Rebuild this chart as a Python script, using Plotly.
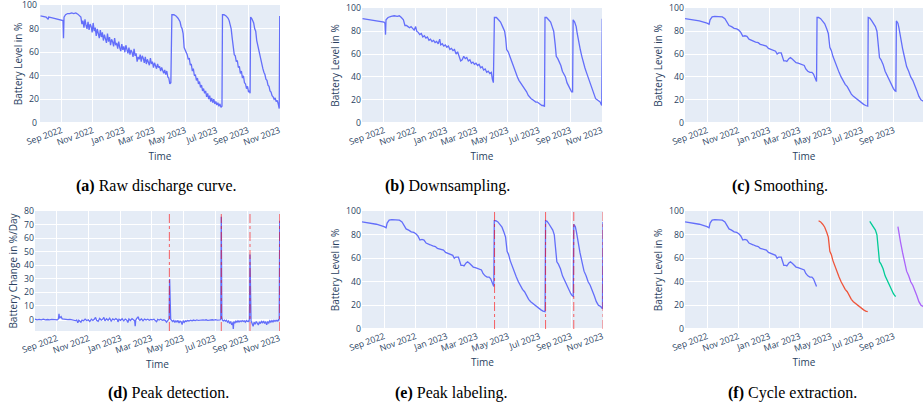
import pandas as pd
import plotly.graph_objects as go

BASE = pd.Timestamp("2022-09-01")

# ---------------- data (days relative to 2022-09-01) ----------------
raw_days = [-41, -35, -30, -26, -25, -20, -15, -10, -5, 0, 2, 3, 4, 5, 8, 12, 16, 20, 24, 28, 32, 36,
            38, 40, 42, 44, 46, 48, 50, 52, 54, 56, 58, 60, 62, 64, 66, 68, 70, 72, 74, 76, 78, 80,
            82, 84, 86, 88, 90, 92, 94, 96, 98, 100, 102, 104, 106, 108, 110, 112, 114, 116, 118, 120,
            122, 124, 126, 128, 130, 132, 134, 136, 138, 140, 142, 144, 146, 148, 150, 152, 154, 156,
            158, 160, 162, 164, 166, 168, 170, 172, 174, 176, 178, 180, 182, 184, 186, 188, 190, 192,
            194, 196, 198, 200, 202, 204, 206, 208, 210, 212, 214,
            216, 220, 224, 228, 232, 234, 236, 238, 240, 242, 244, 246, 248, 250, 252, 254, 256, 258,
            260, 262, 264, 266, 268, 270, 272, 274, 276, 278, 280, 282, 284, 286, 288, 290, 292, 294,
            296, 298, 300, 302, 304, 306, 308, 310, 312, 314,
            315, 318, 322, 326, 328, 330, 332, 334, 336, 338, 340, 342, 344, 346, 348, 350, 352, 354,
            356, 358, 360, 362, 364, 366, 368, 369,
            370, 372, 374, 376, 378, 380, 382, 384, 386, 388, 390, 392, 394, 396, 398, 400, 402, 404,
            406, 408, 410, 412, 414, 416, 418, 420, 422, 424, 426, 427]
raw_vals = [91, 90.5, 90, 88, 90, 89.5, 89, 88.5, 88, 87.5, 87, 87, 72, 90, 92, 93, 93, 93.5, 93, 93.5, 92.5, 91,
            90, 84, 87, 81, 88, 83, 80, 86, 79, 84, 82, 77, 85, 78, 81, 74, 80, 76, 72, 79, 73, 77,
            70, 75, 72, 68, 76, 69, 73, 66, 71, 69, 65, 72, 66, 68, 63, 69, 64, 61, 67, 62,
            65, 60, 66, 63, 59, 64, 58, 62, 60, 56, 63, 57, 59, 52, 56, 54, 58, 52,
            57, 55, 51, 56, 50, 54, 52, 49, 55, 50, 52, 47, 51, 49, 46, 50, 47, 48,
            44, 47, 45, 42, 45, 41, 44, 39, 38, 33, 34,
            92, 92, 91, 89, 86, 82, 80, 76, 64, 62, 60, 58, 54, 55, 49, 50, 44, 46,
            40, 41, 36, 38, 33, 35, 30, 32, 27, 29, 25, 27, 22, 25, 20, 23, 18, 21,
            17, 20, 16, 18, 15, 17, 14, 16, 13, 14,
            92, 92, 91, 89, 87, 84, 80, 72, 62, 58, 57, 52, 53, 47, 48, 42, 44, 38,
            40, 34, 33, 29, 31, 26, 27, 25,
            90, 89, 87, 85, 80, 78, 70, 66, 60, 58, 55, 51, 46, 43, 41, 37, 36, 32,
            31, 27, 26, 23, 22, 20, 21, 18, 19, 16, 12, 91]

down_days = [-42, -35, -28, -21, -14, -7, 0, 2, 3, 4, 8, 14, 20, 26, 30, 34, 38, 41, 44, 47, 50, 53, 56,
             59, 62, 64, 67, 70, 73, 76, 79, 82, 85, 88, 91, 94, 97, 100, 103, 106, 109, 111, 114, 117,
             120, 123, 126, 129, 132, 135, 138, 141, 144, 147, 150, 153, 156, 159, 162, 165, 168, 171,
             174, 177, 180, 183, 186, 189, 192, 195, 198, 201, 204, 207, 210, 212, 214,
             216, 220, 224, 228, 232, 236, 238, 240, 243, 246, 249, 252, 255, 258, 261, 264, 267, 270,
             273, 276, 279, 282, 285, 288, 291, 294, 297, 300, 303, 306, 309, 312, 314,
             315, 318, 322, 326, 329, 332, 335, 337, 340, 343, 346, 349, 352, 355, 358, 361, 364, 367, 369,
             370, 373, 376, 378, 381, 384, 387, 390, 393, 396, 399, 402, 405, 408, 411, 414, 417, 420,
             423, 425, 426, 427]
down_vals = [91, 90.5, 90, 89.5, 89, 88.5, 88, 87, 77, 90, 92, 93, 93.5, 93, 93.5, 92, 90, 85, 85, 84, 83, 84, 82,
             81, 84, 80, 79, 77, 78, 75, 76, 74, 75, 72, 73, 71, 72, 70, 71, 69, 73, 68, 69, 67,
             68, 66, 67, 64, 65, 63, 64, 60, 62, 58, 54, 55, 58, 56, 57, 54, 55, 52,
             53, 51, 52, 50, 51, 48, 49, 46, 47, 44, 45, 43, 44, 38, 35,
             92, 92, 90, 88, 84, 80, 74, 64, 62, 58, 54, 50, 47, 44, 40, 37, 35, 34,
             32, 30, 27, 24, 22, 21, 20, 19, 18, 18, 17, 16, 15, 15, 14,
             92, 92, 90, 88, 84, 80, 68, 58, 56, 53, 50, 45, 42, 40, 35, 32, 29, 27, 27,
             90, 88, 84, 78, 70, 64, 58, 52, 48, 44, 40, 36, 32, 28, 24, 21, 20, 19,
             18, 16, 15, 91]

smooth_days = [-43, -30, -15, 0, 2, 4, 6, 10, 15, 25, 30, 35, 40, 43, 48, 53, 58, 62, 66, 70, 74, 78, 82,
               86, 90, 95, 100, 104, 108, 112, 116, 120, 125, 130, 134, 137, 140, 145, 148, 150, 154, 156,
               160, 163, 167, 170, 174, 178, 182, 186, 190, 193, 197, 201, 205, 208, 211, 213, 214,
               215, 218, 222, 226, 230, 234, 237, 240, 243, 246, 250, 254, 258, 262, 266, 270, 274, 278,
               282, 286, 290, 294, 298, 302, 306, 310, 313, 314,
               315, 318, 322, 326, 329, 332, 335, 337, 340, 344, 348, 352, 356, 360, 364, 367, 369,
               370, 373, 375, 378, 382, 386, 390, 394, 398, 402, 406, 410, 414, 418, 422, 425, 426, 427]
smooth_vals = [91, 90, 89, 87, 86.5, 86, 90, 92.5, 93, 93, 92.5, 91, 87, 85, 84, 82.5, 82, 81, 79, 75.5, 76, 75.5, 73,
               72, 71.5, 70.5, 70, 68.5, 68, 67.5, 67, 65, 64, 63.5, 62.5, 60, 61, 61, 57, 54, 54, 53.5,
               56, 57, 55.5, 54, 52.5, 52, 51.5, 51, 50, 47, 45, 44, 44, 42.5, 39, 36.5, 36,
               92, 92, 91, 89, 86.5, 82, 78, 66, 63, 58, 53, 48, 44, 40, 36, 33.5, 31.5, 28,
               25, 23, 21.5, 20, 19, 17.5, 16, 15, 14.5, 14.5,
               92, 91.5, 89, 86, 84, 80, 68, 57, 55, 51, 45, 41, 38, 34, 30, 28, 27.5,
               89, 87, 83, 74, 65, 57, 49, 45, 40, 37, 33, 28, 23, 20, 19, 18, 17, 91]

rate_days = [-42, -38, -34, -30, -26, -22, -18, -14, -10, -6, -2, 1, 3, 4, 5, 7, 8, 10, 13, 17, 21, 25, 29, 33,
             36, 38, 40, 42, 44, 46, 48, 51, 54, 57, 60, 63, 66, 69, 72, 74, 76, 79, 82, 85, 88, 90, 92, 95,
             98, 101, 104, 107, 110, 113, 116, 117, 119, 122, 125, 128, 131, 134, 136, 138, 141, 144, 147,
             149, 150, 151, 153, 156, 157, 159, 162, 165, 168, 171, 174, 177, 180, 183, 186, 189, 191, 193,
             196, 199, 202, 205, 208, 210, 212, 214, 215, 216, 217, 218, 220, 222, 224, 226, 228, 230, 232,
             234, 236, 238, 240, 242, 244, 246, 248, 250, 253, 256, 259, 262, 265, 268, 271, 274, 277, 280,
             283, 286, 289, 292, 295, 298, 301, 304, 307, 310, 313, 314, 315, 316, 317, 319, 321, 323, 325,
             327, 329, 331, 333, 335, 337, 338, 339, 341, 343, 345, 347, 349, 351, 353, 355, 357, 359, 361,
             363, 365, 367, 368, 369, 370, 371, 372, 374, 376, 378, 380, 382, 384, 386, 388, 390, 392, 394,
             396, 398, 400, 402, 404, 406, 408, 410, 412, 414, 416, 418, 420, 422, 424, 425, 426, 427]
rate_vals = [0.2, -0.2, 0.1, -0.3, 0.2, -0.2, 0.0, -0.3, 0.1, -0.2, 0.0, -0.3, 0.5, 4.2, 1.0, 1.8, 2.2, 0.5, 0.2, 0.0,
             -0.1, 0.1, -0.2, -0.3, -0.8, -0.3, -2.5, -0.5, -1.2, -2.0, -0.4, -0.9, 0.3, -0.8, -0.2, -1.5, 0.2,
             -0.7, 0.4, 1.5, -0.6, -1.4, 0.8, -0.5, 0.3, 1.6, -1.0, 0.5, -0.6, 0.9, -1.2, 0.4, -0.4, 0.7, -0.3,
             -1.8, 0.2, -0.6, 0.5, -1.0, 0.3, -0.5, -2.2, 0.4, -0.7, 0.6, -0.3, -0.8, -4.9, -0.5, 0.8, 2.0, 0.3,
             -0.6, 0.4, -0.9, 0.3, -0.4, 0.2, -0.6, 0.1, -0.3, 0.2, -0.5, -1.6, 0.1, -0.4, 0.2, -0.6, -0.2, -0.8,
             -2.0, -1.0, -0.5, 0.5, 30.0, 1.0, 0.2, -0.8, -1.5, -0.6, -2.2, -1.0, -1.8, -0.7, -2.5, -1.2, -1.6,
             -3.8, -0.9, -2.1, -1.0, -1.4, -0.8, -1.1, -0.5, -0.9, -0.4, -0.8, -0.3, -0.6, -0.4, -0.7, -0.3,
             -0.5, -0.2, -0.6, -0.3, -0.4, -0.2, -0.5, -0.1, -0.4, -0.2, -0.3, 0.5, 76.0, 2.0, -0.5, -1.0, -0.4,
             -1.2, -0.6, -2.0, -1.1, -3.0, -1.5, -4.0, -2.2, -7.0, -1.5, -2.8, -1.2, -2.0, -0.9, -1.8, -1.0, -1.6,
             -0.8, -1.4, -1.0, -1.9, -0.8, -1.5, -1.0, -1.8, 1.0, 48.0, 1.5, -1.0, -3.0, -5.0, -2.0, -3.5, -1.5,
             -2.5, -4.0, -1.8, -3.0, -1.5, -2.4, -1.2, -3.0, -1.6, -4.0, -1.5, -2.6, -1.0, -2.0, -0.8, -1.8, -0.6,
             -1.4, -0.5, -1.2, -0.4, -0.8, 0.5, 73.0]

peak_days = [215.5, 315, 370, 427]
cycle_starts = [-43, 218, 318, 373]
cycle_ends = [214, 314, 369, 426]
cycle_colors = ["#636efa", "#EF553B", "#00cc96", "#ab63fa"]

level_ticks = [0, 20, 40, 60, 80, 100]
level_inner_ticks = [20, 40, 60, 80]
level_edge_ticks = [0, 100]
rate_ticks = [0, 10, 20, 30, 40, 50, 60, 70, 80]

captions = ["<b>(a)</b> Raw discharge curve.", "<b>(b)</b> Downsampling.", "<b>(c)</b> Smoothing.",
            "<b>(d)</b> Peak detection.", "<b>(e)</b> Peak labeling.", "<b>(f)</b> Cycle extraction."]


def to_dates(days):
    return BASE + pd.to_timedelta(pd.Series(days, dtype=float), unit="D")


def d(day):
    return (BASE + pd.to_timedelta(day, unit="D")).strftime("%Y-%m-%d %H:%M")


W, H = 923, 410
BLUE = "#636efa"
LW = 1.3
TICKCOL = "#2a3f5f"

fig = go.Figure()

# panels: (xdomain px, ydomain px, x-range days, y-range)
panels = [
    ((40, 280), (5, 123), (-42, 427.5), (-0.3, 100.3)),
    ((362, 602), (8, 123), (-43, 426.5), (-0.3, 100.3)),
    ((685, 923), (8, 123), (-43, 422), (-0.3, 100.3)),
    ((35, 280), (211, 331), (-42, 427.5), (-8.5, 80.2)),
    ((362, 603), (211, 329), (-43, 427), (-0.3, 100.3)),
    ((685, 923), (211, 329), (-43, 422), (-0.3, 100.3)),
]

fig.add_trace(go.Scatter(x=to_dates(raw_days), y=raw_vals, mode="lines",
                         line=dict(color=BLUE, width=LW), xaxis="x", yaxis="y"))
fig.add_trace(go.Scatter(x=to_dates(down_days), y=down_vals, mode="lines",
                         line=dict(color=BLUE, width=LW), xaxis="x2", yaxis="y2"))
fig.add_trace(go.Scatter(x=to_dates(smooth_days), y=smooth_vals, mode="lines",
                         line=dict(color=BLUE, width=LW), xaxis="x3", yaxis="y3"))
fig.add_trace(go.Scatter(x=to_dates(rate_days), y=rate_vals, mode="lines",
                         line=dict(color=BLUE, width=LW), xaxis="x4", yaxis="y4"))
fig.add_trace(go.Scatter(x=to_dates(smooth_days), y=smooth_vals, mode="lines",
                         line=dict(color=BLUE, width=LW), xaxis="x5", yaxis="y5"))

s = pd.Series(smooth_vals, index=smooth_days)
for st, en, col in zip(cycle_starts, cycle_ends, cycle_colors):
    seg = s[(s.index >= st) & (s.index <= en)]
    fig.add_trace(go.Scatter(x=to_dates(list(seg.index)), y=list(seg.values), mode="lines",
                             line=dict(color=col, width=LW), xaxis="x6", yaxis="y6"))

for ax in ("x4", "x5"):
    yax = "y4" if ax == "x4" else "y5"
    for pday in peak_days:
        fig.add_shape(type="line", xref=ax, yref=yax + " domain", x0=d(pday), x1=d(pday), y0=0, y1=1,
                      line=dict(color="rgba(255,0,0,0.6)", width=1, dash="dashdot"))

tickfont = dict(size=8.7, color=TICKCOL)
titlefont = dict(size=10, color=TICKCOL)
layout = dict(width=W, height=H, margin=dict(l=0, r=0, t=0, b=0), showlegend=False,
              paper_bgcolor="white", plot_bgcolor="#E5ECF6",
              font=dict(family="Open Sans, sans-serif", color=TICKCOL))

for i, ((x0, x1), (y0, y1), (r0, r1), yrng) in enumerate(panels, start=1):
    sfx = "" if i == 1 else str(i)
    layout["xaxis" + sfx] = dict(
        domain=[x0 / W, x1 / W], anchor="y" + sfx, type="date", range=[d(r0), d(r1)],
        dtick="M2", tick0="2022-09-01", tickformat="%b %Y", tickangle=-20,
        tickfont=tickfont, title=dict(text="Time", font=titlefont, standoff=4),
        gridcolor="white", gridwidth=1, showline=False, zeroline=False, automargin=False,
        ticks="", ticklen=0)
    if i == 4:
        tv, ytitle = rate_ticks, "Battery Change in %/Day"
    elif i == 1:
        tv, ytitle = level_inner_ticks, "Battery Level in %"
    else:
        tv, ytitle = level_ticks, "Battery Level in %"
    layout["yaxis" + sfx] = dict(
        domain=[1 - y1 / H, 1 - y0 / H], anchor="x" + sfx, range=list(yrng),
        tickmode="array", tickvals=tv, ticktext=[str(v) for v in tv],
        tickfont=tickfont, title=dict(text=ytitle, font=titlefont, standoff=4),
        gridcolor="white", gridwidth=1, zeroline=True, zerolinecolor="white", zerolinewidth=1.5,
        automargin=False, ticks="", ticklen=0, ticklabeloverflow="allow")

fig.update_layout(**layout)

# edge tick labels (0 and 100) of panel (a), placed on its y axis
for v in level_edge_ticks:
    fig.add_annotation(text=str(v), xref="x domain", yref="y", x=0, y=v,
                       xanchor="right", yanchor="middle", xshift=-1, showarrow=False,
                       font=dict(family="Open Sans, sans-serif", size=8.7, color=TICKCOL))

cap_x = [156, 447, 780, 168, 451, 792]
cap_y = [186, 186, 186, 393, 393, 393]
for txt, cx, cy in zip(captions, cap_x, cap_y):
    fig.add_annotation(text=txt, x=cx / W, y=1 - cy / H, xref="paper", yref="paper",
                       showarrow=False, xanchor="center", yanchor="middle",
                       font=dict(family="Liberation Serif, Times New Roman, serif", size=16, color="black"))

fig.write_html("out.html")
